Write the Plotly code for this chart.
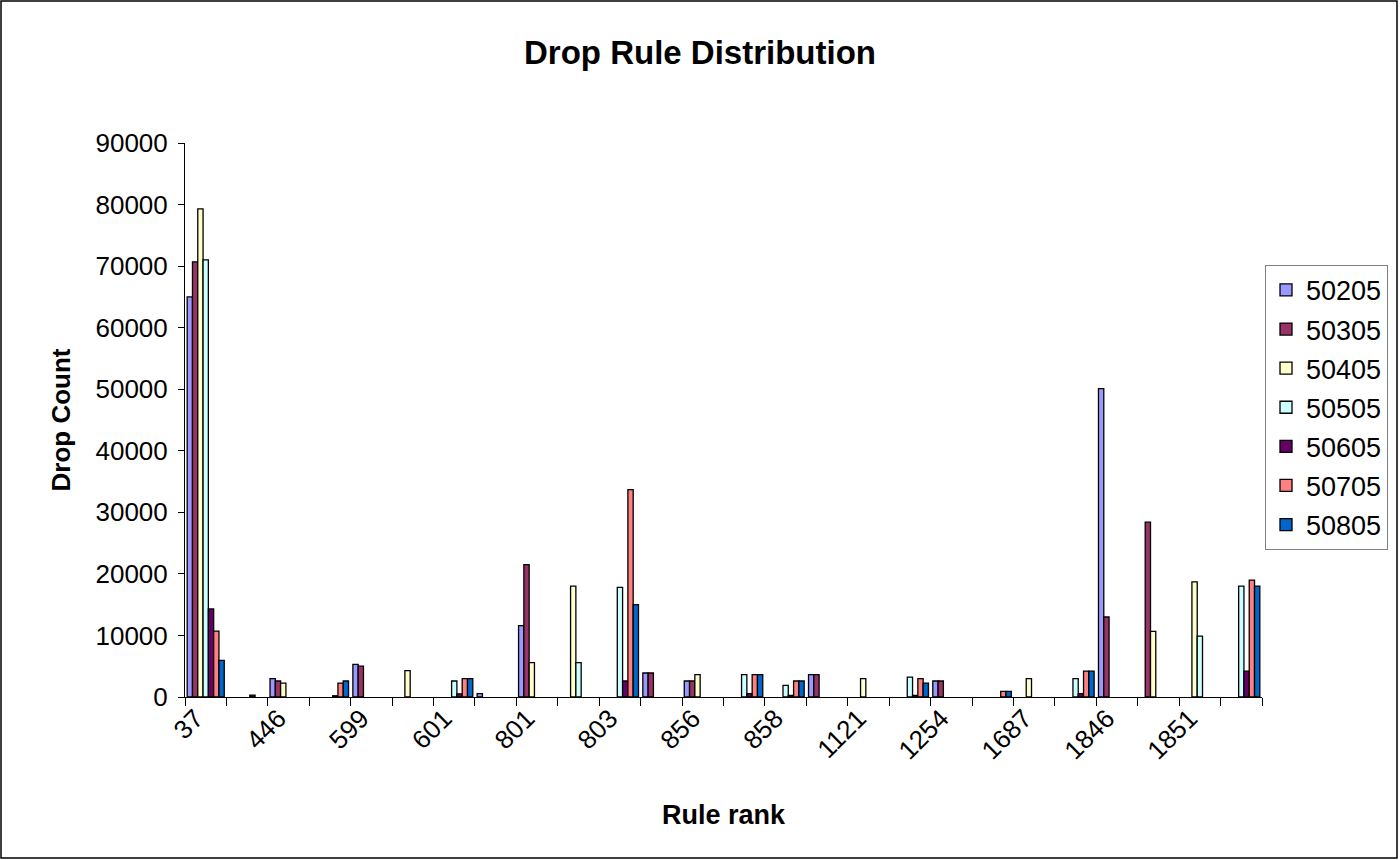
import plotly.graph_objects as go

# Rule ranks shown on the axis (every other category is labelled)
rule_labels = ["37", "446", "599", "601", "801", "803", "856",
               "858", "1121", "1254", "1687", "1846", "1851"]
n_categories = 26

series_names = ["50205", "50305", "50405", "50505", "50605", "50705", "50805"]
series_colors = ["#9999FF", "#993366", "#FFFFCC", "#CCFFFF",
                 "#660066", "#FF8080", "#0066CC"]

# Drop counts per category (26 rules, left to right)
d50205 = [65000, 0, 2970, 0, 5300, 0, 0, 540, 11600, 0, 0, 3900, 2600,
          0, 0, 3620, 0, 0, 2600, 0, 0, 0, 50100, 0, 0, 0]
d50305 = [70700, 0, 2600, 0, 5000, 0, 0, 0, 21500, 0, 0, 3900, 2600,
          0, 0, 3620, 0, 0, 2600, 0, 0, 0, 13000, 28400, 0, 0]
d50405 = [79300, 0, 2270, 0, 0, 4270, 0, 0, 5570, 18000, 0, 0, 3620,
          0, 0, 0, 2970, 0, 0, 0, 2970, 0, 0, 10650, 18700, 0]
d50505 = [71000, 0, 0, 0, 0, 0, 2600, 0, 0, 5570, 17800, 0, 0,
          3620, 1890, 0, 0, 3240, 0, 0, 0, 2970, 0, 0, 9900, 18000]
d50605 = [14300, 300, 0, 200, 0, 0, 500, 0, 0, 0, 2600, 0, 0,
          540, 270, 0, 0, 270, 0, 0, 0, 540, 0, 0, 0, 4200]
d50705 = [10700, 0, 0, 2270, 0, 0, 2970, 0, 0, 0, 33700, 0, 0,
          3620, 2600, 0, 0, 2970, 0, 920, 0, 4200, 0, 0, 0, 19000]
d50805 = [5950, 0, 0, 2600, 0, 0, 2970, 0, 0, 0, 15000, 0, 0,
          3620, 2600, 0, 0, 2270, 0, 920, 0, 4200, 0, 0, 0, 18000]

series_values = [d50205, d50305, d50405, d50505, d50605, d50705, d50805]

FONT = "Liberation Sans, Arial, sans-serif"
positions = list(range(n_categories))

fig = go.Figure()
for name, color, vals in zip(series_names, series_colors, series_values):
    # empty cells are left blank so no outline is drawn on the axis
    shown = [v if v else None for v in vals]
    fig.add_trace(go.Bar(
        x=positions, y=shown, name=name,
        marker=dict(color=color, line=dict(color="#000000", width=1.3)),
        legendgroup=name,
    ))

# Invisible trace that carries the label axis
fig.add_trace(go.Scatter(x=[0], y=[0], xaxis="x2", mode="markers",
                         marker=dict(opacity=0), showlegend=False,
                         hoverinfo="skip"))

x_range = [-0.5, n_categories - 0.5]

fig.update_layout(
    width=1400, height=860,
    margin=dict(l=185, r=138, t=143, b=163, autoexpand=False),
    paper_bgcolor="white", plot_bgcolor="white",
    barmode="group", bargap=0.105, bargroupgap=0,
    font=dict(family=FONT, size=26, color="#000000"),
    title=dict(text="<b>Drop Rule Distribution</b>", x=0.5, xref="container",
               xanchor="center", y=1 - 52 / 860, yanchor="middle",
               font=dict(size=33, family=FONT)),
    xaxis=dict(
        range=x_range, showgrid=False, zeroline=False, automargin=False,
        showline=True, linecolor="#000000", linewidth=1,
        tickmode="array",
        tickvals=[i - 0.5 for i in range(n_categories + 1)],
        ticks="outside", ticklen=8, tickcolor="#000000",
        showticklabels=False,
        title=dict(text=""),
    ),
    xaxis2=dict(
        range=x_range, overlaying="x", anchor="y", side="bottom",
        showgrid=False, zeroline=False, showline=False, automargin=False,
        tickmode="array",
        tickvals=list(range(0, n_categories, 2)),
        ticktext=rule_labels, tickangle=-45, ticks="",
        ticklabelshift=-10,
        tickfont=dict(size=26, family=FONT),
        title=dict(text="<b>Rule rank</b>", standoff=40,
                   font=dict(size=27, family=FONT)),
    ),
    yaxis=dict(
        range=[0, 90000], dtick=10000, tickformat="d", automargin=False,
        showgrid=False, zeroline=False,
        showline=True, linecolor="#000000", linewidth=1,
        ticks="outside", ticklen=6, tickcolor="#000000",
        ticklabelstandoff=5,
        tickfont=dict(size=26, family=FONT),
        title=dict(text="<b>Drop Count</b>", standoff=17,
                   font=dict(size=26, family=FONT)),
    ),
    legend=dict(
        x=1203 / 1077, y=0.78, xanchor="right", yanchor="top",
        bordercolor="#808080", borderwidth=1, bgcolor="white",
        font=dict(size=27, family=FONT),
        tracegroupgap=1, itemwidth=30, itemclick=False,
    ),
    shapes=[dict(type="rect", xref="paper", yref="paper",
                 x0=-184 / 1077, x1=1212 / 1077,
                 y0=-161 / 554, y1=696 / 554,
                 line=dict(color="#000000", width=1.5))],
)

fig.write_html("out.html")
